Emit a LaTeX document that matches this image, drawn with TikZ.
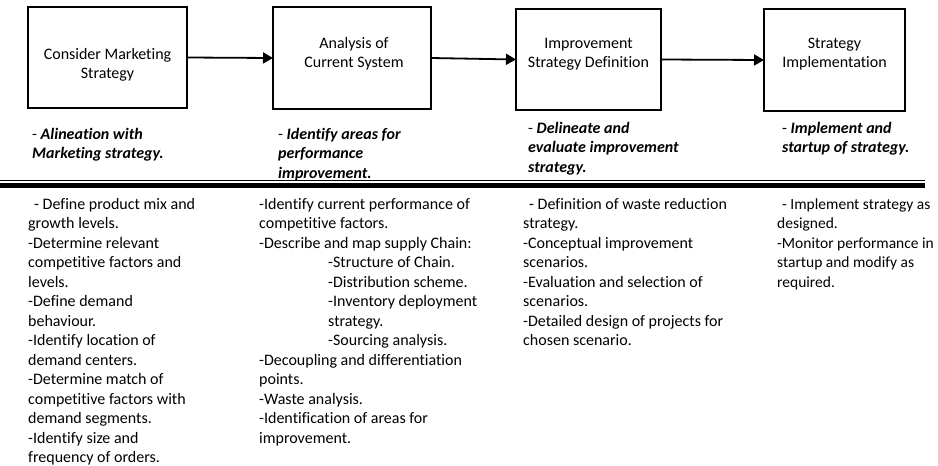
\documentclass[tikz,border=0pt]{standalone}
\usepackage{fontspec}
\setmainfont{Carlito}[Ligatures=NoCommon]
\usetikzlibrary{arrows.meta}
\begin{document}
\begin{tikzpicture}[x=1pt,y=-1pt,
  stagebox/.style={draw=black,line width=1.5pt,inner sep=0pt,outer sep=0pt},
  boxtext/.style={align=center,inner sep=0pt,anchor=base,font=\fontsize{16}{19.5}\selectfont},
  goaltext/.style={align=left,inner sep=0pt,anchor=base west,font=\fontsize{16}{19.5}\selectfont},
  bodytext/.style={align=left,inner sep=0pt,anchor=base west,font=\fontsize{16}{19.5}\selectfont},
  flow/.style={line width=1.8pt,-{Triangle[length=10pt,width=11pt]}}]
\useasboundingbox (0,0) rectangle (938,466);
\fill[white] (0,0) rectangle (938,466);

% stage boxes
\node[stagebox,minimum width=159pt,minimum height=101pt] (b1) at (107.5,57.5) {};
\node[stagebox,minimum width=158pt,minimum height=102pt] (b2) at (352,58) {};
\node[stagebox,minimum width=145pt,minimum height=101pt] (b3) at (588.5,59.5) {};
\node[stagebox,minimum width=141pt,minimum height=102pt] (b4) at (834.5,60) {};

% (anchor = baseline of the last line)
\node[boxtext] (t1) at (107.5,78.5) {Consider Marketing\\Strategy};
\node[boxtext] (t2) at (354,67.8) {Analysis of\\Current System};
\node[boxtext] (t3) at (588.5,67.8) {Improvement\\Strategy Definition};
\node[boxtext] (t4) at (834.5,67.8) {Strategy\\Implementation};

% connectors
\draw[flow] (b1.east) -- (b2.west);
\draw[flow] (b2.east) -- (b3.west);
\draw[flow] (b3.east) -- (b4.west);

% goals
\node[goaltext] (g1) at (32,158.5) {- {\bfseries\itshape Alineation with}\\{\bfseries\itshape Marketing strategy.}};
\node[goaltext] (g2) at (278,178) {- {\bfseries\itshape Identify areas for}\\{\bfseries\itshape performance}\\{\bfseries\itshape improvement.}};
\node[goaltext] (g3) at (528,172.3) {- {\bfseries\itshape Delineate and}\\{\bfseries\itshape evaluate improvement}\\{\bfseries\itshape strategy.}};
\node[goaltext] (g4) at (782,152.8) {- {\bfseries\itshape Implement and}\\{\bfseries\itshape startup of strategy.}};

% separator
\coordinate (s1) at (0,180.5);
\coordinate (s2) at (925,180.5);
\coordinate (s3) at (0,185.5);
\coordinate (s4) at (925,185.5);
\draw[line width=1.3pt] (s1) -- (s2);
\draw[line width=5pt] (s3) -- (s4);

% details
\node[bodytext] (d1) at (28,462.5) {\hspace*{6pt}- Define product mix and\\
growth levels.\\
-Determine relevant\\
competitive factors and\\
levels.\\
-Define demand\\
behaviour.\\
-Identify location of\\
demand centers.\\
-Determine match of\\
competitive factors with\\
demand segments.\\
-Identify size and\\
frequency of orders.};

\node[bodytext] (d2) at (259,443) {-Identify current performance of\\
competitive factors.\\
-Describe and map supply Chain:\\
\hspace*{69pt}-Structure of Chain.\\
\hspace*{69pt}-Distribution scheme.\\
\hspace*{69pt}-Inventory deployment\\
\hspace*{69pt}strategy.\\
\hspace*{69pt}-Sourcing analysis.\\
-Decoupling and differentiation\\
points.\\
-Waste analysis.\\
-Identification of areas for\\
improvement.};

\node[bodytext] (d3) at (523,345.5) {\hspace*{6pt}- Definition of waste reduction\\
strategy.\\
-Conceptual improvement\\
scenarios.\\
-Evaluation and selection of\\
scenarios.\\
-Detailed design of projects for\\
chosen scenario.};

\node[bodytext,font=\fontsize{15.5}{19.5}\selectfont] (d4) at (777,287) {\hspace*{5pt}- Implement strategy as\\
designed.\\
-Monitor performance in\\
startup and modify as\\
required.};
\end{tikzpicture}
\end{document}
